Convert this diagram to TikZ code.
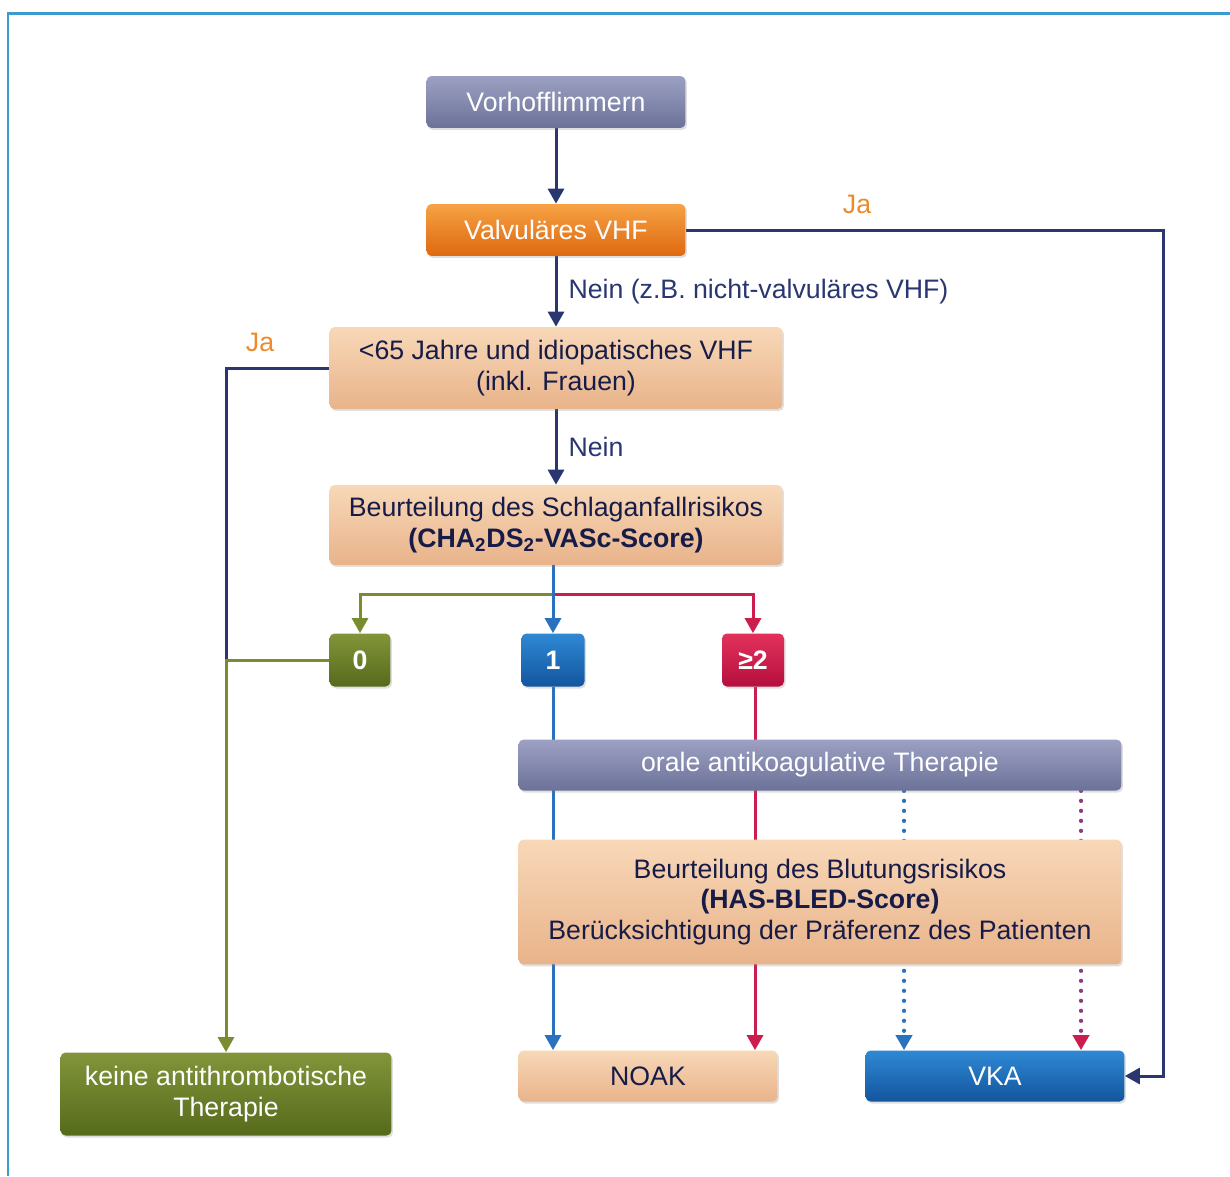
\documentclass[tikz,border=0pt]{standalone}
\usepackage{fontspec}
\setmainfont{Liberation Sans}
\usetikzlibrary{arrows.meta,shadows}
\pgfdeclarelayer{background}
\pgfsetlayers{background,main}

\definecolor{framecol}{HTML}{3C9AD0}
\definecolor{navy}{HTML}{2A3670}
\definecolor{txtnavy}{HTML}{161B47}
\definecolor{jaorange}{HTML}{EC8A2C}
\definecolor{grayblueA}{HTML}{9CA1C3}
\definecolor{grayblueB}{HTML}{6C7298}
\definecolor{orangeA}{HTML}{F6A244}
\definecolor{orangeB}{HTML}{DE6810}
\definecolor{peachA}{HTML}{F8D8B8}
\definecolor{peachB}{HTML}{E8B38A}
\definecolor{greenA}{HTML}{82953A}
\definecolor{greenB}{HTML}{566A1C}
\definecolor{blueA}{HTML}{2F88D4}
\definecolor{blueB}{HTML}{13569E}
\definecolor{redA}{HTML}{E2325C}
\definecolor{redB}{HTML}{B50F3E}
\definecolor{greenline}{HTML}{7A8C30}
\definecolor{blueline}{HTML}{2A72BE}
\definecolor{redline}{HTML}{CC1D4E}
\definecolor{purpleline}{HTML}{8E3A7E}

\newcommand{\boxfont}{\fontsize{15.2}{17.5}\selectfont}

\tikzset{
  box/.style={rounded corners=0.1cm, inner sep=0pt, align=center, font=\boxfont,
    drop shadow={opacity=0.25, shadow xshift=0.03cm, shadow yshift=-0.04cm}},
  graybox/.style={box, top color=grayblueA, bottom color=grayblueB, text=white},
  orangebox/.style={box, top color=orangeA, bottom color=orangeB, text=white},
  peachbox/.style={box, top color=peachA, bottom color=peachB, text=txtnavy},
  greenbox/.style={box, top color=greenA, bottom color=greenB, text=white},
  bluebox/.style={box, top color=blueA, bottom color=blueB, text=white},
  redbox/.style={box, top color=redA, bottom color=redB, text=white},
  conn/.style={line width=0.06cm},
  arr/.style={-{Triangle[length=0.3cm,width=0.32cm]}},
  dotline/.style={line width=0.085cm, line cap=round, dash pattern=on 0pt off 0.2cm},
  lbl/.style={font=\boxfont, inner sep=0pt}
}

\begin{document}
\begin{tikzpicture}[x=0.02cm, y=-0.02cm]
  \useasboundingbox (0,0) rectangle (1230,1176);
  \draw[framecol, line width=0.06cm] (8,1176) -- (8,14) -- (1230,14);

  % boxes
  \node[graybox, minimum width=5.18cm, minimum height=1.04cm] (vorhof) at (556,102) {Vorhofflimmern};
  \node[orangebox, minimum width=5.18cm, minimum height=1.04cm] (valv) at (556,230) {Valvuläres VHF};
  \node[peachbox, minimum width=9.06cm, minimum height=1.64cm] (jung) at (556,368)
    {<65 Jahre und idiopatisches VHF\\(inkl. Frauen)};
  \node[peachbox, minimum width=9.06cm, minimum height=1.6cm] (schlag) at (556,525)
    {Beurteilung des Schlaganfallrisikos\\\textbf{(CHA\textsubscript{2}DS\textsubscript{2}-VASc-Score)}};
  \node[greenbox, minimum width=1.22cm, minimum height=1.06cm] (null) at (360,660) {\textbf{0}};
  \node[bluebox, minimum width=1.26cm, minimum height=1.06cm] (eins) at (553,660) {\textbf{1}};
  \node[redbox, minimum width=1.24cm, minimum height=1.06cm] (zwei) at (753,660) {\textbf{≥2}};
  \node[graybox, minimum width=12.06cm, minimum height=1.02cm] (orale) at (820,765) {orale antikoagulative Therapie};
  \node[peachbox, minimum width=12.06cm, minimum height=2.5cm] (blutung) at (820,902)
    {Beurteilung des Blutungsrisikos\\\textbf{(HAS-BLED-Score)}\\Berücksichtigung der Präferenz des Patienten};
  \node[peachbox, minimum width=5.18cm, minimum height=1.02cm] (noak) at (648,1076) {NOAK};
  \node[bluebox, minimum width=5.18cm, minimum height=1.02cm] (vka) at (995,1076) {VKA};
  \node[greenbox, minimum width=6.62cm, minimum height=1.66cm] (keine) at (226,1094)
    {keine antithrombotische\\Therapie};

  % labels
  \node[lbl, text=jaorange] (ja1) at (857,204) {Ja};
  \node[lbl, text=jaorange] (ja2) at (260,342) {Ja};

  \coordinate (rt) at (1163,230);
  \coordinate (split) at (553,594);

  % connectors
  \begin{pgfonlayer}{background}
    \draw[conn, navy, arr] (vorhof) -- (valv);
    \draw[conn, navy, arr] (valv) -- (jung)
      node[midway, right=0.22cm, lbl, text=navy] (nein1) {Nein (z.B. nicht-valvuläres VHF)};
    \draw[conn, navy, arr] (jung) -- (schlag)
      node[midway, right=0.22cm, lbl, text=navy] (nein2) {Nein};
    \draw[conn, navy, arr] (valv.east) -- (rt) |- (vka.east);
    \draw[conn, navy] (jung.west) -| (null.west -| keine.north);
    \draw[conn, greenline, arr] (null.west) -| (keine.north);

    \draw[conn, redline, arr] (split) -| (zwei.north);
    \draw[conn, greenline, arr] (split) -| (null.north);
    \draw[conn, blueline, arr] (schlag.south -| eins) -- (eins.north);

    \draw[conn, blueline, arr] (eins.south) -- (noak.north -| eins);
    \draw[conn, redline, arr] (zwei.south -| 755,0) -- (noak.north -| 755,0);
    \draw[dotline, blueline, arr] (orale.south -| 904,0) -- (vka.north -| 904,0);
    \draw[dotline, purpleline, -{Triangle[length=0.3cm,width=0.32cm,color=redline]}]
      (orale.south -| 1081,0) -- (vka.north -| 1081,0);
  \end{pgfonlayer}
\end{tikzpicture}
\end{document}
